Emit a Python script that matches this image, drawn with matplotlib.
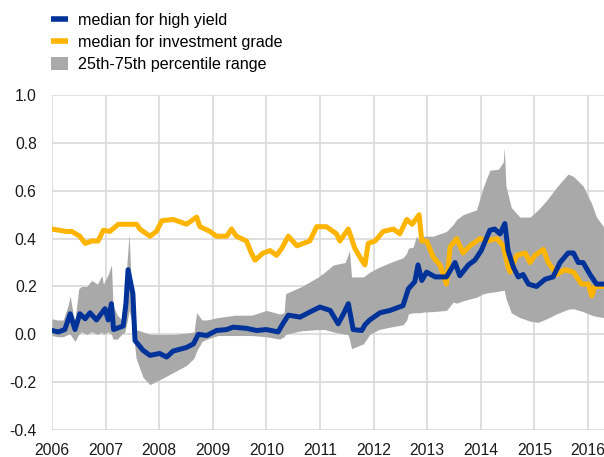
import matplotlib
matplotlib.use('Agg')
import matplotlib.pyplot as plt
from matplotlib.lines import Line2D
from matplotlib.patches import Patch

plt.rcParams['font.family'] = ['Liberation Sans', 'DejaVu Sans']
plt.rcParams['font.size'] = 11

# 25th-75th percentile band (decimal years, lower, upper)
band_t = [2006.00, 2006.10, 2006.21, 2006.30, 2006.34, 2006.40, 2006.43, 2006.50, 2006.55,
          2006.65, 2006.74, 2006.85, 2006.93, 2006.96, 2007.05, 2007.11, 2007.14, 2007.22,
          2007.30, 2007.36, 2007.40, 2007.44, 2007.49, 2007.53, 2007.57, 2007.70, 2007.83,
          2008.01, 2008.26, 2008.51, 2008.65, 2008.70, 2008.80, 2008.89, 2009.10, 2009.41,
          2009.73, 2010.00, 2010.25, 2010.33, 2010.36, 2010.66, 2010.97, 2011.09, 2011.25,
          2011.47, 2011.52, 2011.55, 2011.59, 2011.70, 2011.81, 2011.93, 2012.10, 2012.31,
          2012.55, 2012.62, 2012.65, 2012.74, 2012.80, 2012.86, 2012.93, 2013.11, 2013.36,
          2013.49, 2013.55, 2013.67, 2013.92, 2014.05, 2014.17, 2014.33, 2014.42, 2014.44,
          2014.47, 2014.57, 2014.73, 2014.92, 2015.07, 2015.23, 2015.42, 2015.63, 2015.73,
          2015.91, 2016.07, 2016.16, 2016.29]
band_lo = [-0.005, -0.01, -0.01, 0.00, 0.00, -0.02, -0.03, 0.00, 0.01,
           0.00, 0.01, 0.00, 0.01, 0.00, 0.01, 0.00, -0.02, -0.02,
           0.00, 0.01, 0.05, 0.10, 0.05, -0.02, -0.10, -0.18, -0.21,
           -0.19, -0.16, -0.13, -0.10, -0.07, -0.03, -0.02, -0.005, -0.005,
           -0.005, -0.01, -0.02, -0.01, 0.00, 0.015, 0.02, 0.02, 0.01,
           0.00, 0.00, -0.02, -0.06, -0.05, -0.04, 0.00, 0.02, 0.03,
           0.04, 0.06, 0.086, 0.09, 0.09, 0.09, 0.093, 0.095, 0.10,
           0.135, 0.13, 0.14, 0.155, 0.17, 0.175, 0.18, 0.184, 0.184,
           0.15, 0.09, 0.07, 0.055, 0.05, 0.065, 0.086, 0.105, 0.107,
           0.095, 0.08, 0.075, 0.07]
band_hi = [0.065, 0.06, 0.06, 0.12, 0.16, 0.08, 0.06, 0.19, 0.20,
           0.20, 0.225, 0.21, 0.246, 0.21, 0.25, 0.29, 0.12, 0.08,
           0.06, 0.10, 0.30, 0.42, 0.15, 0.05, 0.02, 0.01, 0.00,
           0.00, 0.00, 0.005, 0.01, 0.09, 0.06, 0.06, 0.07, 0.08,
           0.08, 0.10, 0.085, 0.09, 0.17, 0.20, 0.24, 0.26, 0.29,
           0.30, 0.33, 0.35, 0.24, 0.24, 0.24, 0.26, 0.28, 0.30,
           0.32, 0.34, 0.36, 0.365, 0.41, 0.39, 0.41, 0.41, 0.43,
           0.46, 0.48, 0.50, 0.52, 0.616, 0.686, 0.69, 0.72, 0.78,
           0.62, 0.53, 0.49, 0.49, 0.52, 0.56, 0.616, 0.67, 0.66,
           0.62, 0.546, 0.49, 0.45]

# median for high yield
hy_t = [2006.00, 2006.12, 2006.24, 2006.34, 2006.43, 2006.52, 2006.62, 2006.71, 2006.83,
        2006.99, 2007.05, 2007.11, 2007.15, 2007.33, 2007.38, 2007.42, 2007.51, 2007.55,
        2007.70, 2007.83, 2008.01, 2008.14, 2008.26, 2008.51, 2008.64, 2008.73, 2008.89,
        2009.07, 2009.26, 2009.38, 2009.63, 2009.82, 2010.00, 2010.22, 2010.31, 2010.41,
        2010.63, 2010.81, 2011.00, 2011.19, 2011.34, 2011.44, 2011.53, 2011.62, 2011.78,
        2011.84, 2011.93, 2012.12, 2012.31, 2012.55, 2012.65, 2012.77, 2012.83, 2012.90,
        2012.99, 2013.15, 2013.36, 2013.52, 2013.61, 2013.77, 2013.89, 2014.01, 2014.17,
        2014.26, 2014.36, 2014.45, 2014.51, 2014.61, 2014.70, 2014.79, 2014.89, 2015.04,
        2015.20, 2015.35, 2015.48, 2015.63, 2015.73, 2015.82, 2015.91, 2016.04, 2016.16,
        2016.29]
hy_v = [0.016, 0.01, 0.02, 0.086, 0.02, 0.086, 0.065, 0.09, 0.06,
        0.107, 0.06, 0.128, 0.02, 0.035, 0.128, 0.27, 0.17, -0.026,
        -0.067, -0.088, -0.08, -0.095, -0.07, -0.055, -0.04, 0.0, -0.005,
        0.016, 0.02, 0.03, 0.025, 0.016, 0.02, 0.01, 0.045, 0.08,
        0.072, 0.093, 0.114, 0.10, 0.044, 0.086, 0.128, 0.02, 0.016,
        0.04, 0.06, 0.09, 0.10, 0.12, 0.19, 0.22, 0.29, 0.225,
        0.26, 0.24, 0.24, 0.30, 0.245, 0.29, 0.31, 0.35, 0.435,
        0.44, 0.42, 0.463, 0.35, 0.28, 0.24, 0.25, 0.21, 0.20,
        0.23, 0.24, 0.30, 0.34, 0.34, 0.30, 0.30, 0.25, 0.21,
        0.21]

# median for investment grade
ig_t = [2006.00, 2006.27, 2006.37, 2006.52, 2006.62, 2006.74, 2006.86, 2006.96, 2007.08,
        2007.24, 2007.39, 2007.58, 2007.64, 2007.83, 2007.95, 2008.05, 2008.26, 2008.39,
        2008.51, 2008.70, 2008.76, 2008.95, 2009.07, 2009.26, 2009.35, 2009.44, 2009.63,
        2009.72, 2009.79, 2009.94, 2010.07, 2010.19, 2010.29, 2010.41, 2010.57, 2010.69,
        2010.81, 2010.94, 2011.12, 2011.31, 2011.37, 2011.53, 2011.65, 2011.78, 2011.84,
        2011.90, 2012.03, 2012.18, 2012.37, 2012.49, 2012.62, 2012.72, 2012.85, 2012.90,
        2012.99, 2013.12, 2013.24, 2013.36, 2013.43, 2013.55, 2013.67, 2013.80, 2013.99,
        2014.11, 2014.30, 2014.42, 2014.51, 2014.55, 2014.67, 2014.83, 2014.92, 2015.01,
        2015.17, 2015.26, 2015.42, 2015.57, 2015.73, 2015.88, 2016.01, 2016.07, 2016.13,
        2016.29]
ig_v = [0.44, 0.43, 0.43, 0.41, 0.38, 0.39, 0.39, 0.435, 0.43,
        0.46, 0.46, 0.46, 0.44, 0.41, 0.43, 0.475, 0.48, 0.47,
        0.46, 0.49, 0.45, 0.43, 0.41, 0.41, 0.44, 0.41, 0.39,
        0.34, 0.31, 0.34, 0.35, 0.33, 0.36, 0.41, 0.37, 0.38,
        0.39, 0.45, 0.45, 0.42, 0.39, 0.44, 0.36, 0.31, 0.29,
        0.38, 0.39, 0.43, 0.44, 0.42, 0.48, 0.46, 0.50, 0.39,
        0.39, 0.32, 0.29, 0.21, 0.365, 0.40, 0.34, 0.37, 0.40,
        0.39, 0.40, 0.37, 0.28, 0.26, 0.33, 0.34, 0.30, 0.33,
        0.355, 0.30, 0.25, 0.27, 0.26, 0.21, 0.21, 0.16, 0.20,
        0.20]

years = list(range(2006, 2017))
yticks = [-0.4, -0.2, 0.0, 0.2, 0.4, 0.6, 0.8, 1.0]

blue = '#003399'
yellow = '#ffb400'
grey = '#a9a9a9'

fig = plt.figure(figsize=(6.04, 4.57), dpi=100)
ax = fig.add_axes([0.086, 0.059, 0.914, 0.733])

ax.fill_between(band_t, band_lo, band_hi, color=grey, linewidth=0, zorder=2)
ax.plot(ig_t, ig_v, color=yellow, lw=3.6, solid_joinstyle='round', zorder=3)
ax.plot(hy_t, hy_v, color=blue, lw=3.6, solid_joinstyle='round', zorder=4)

ax.set_xlim(2006, 2016.3)
ax.set_ylim(-0.4, 1.0)
ax.set_xticks(years)
ax.set_xticklabels([str(y) for y in years])
ax.set_yticks(yticks)
ax.set_yticklabels(['%.1f' % v for v in yticks])
ax.tick_params(length=0, labelsize=11.3, colors='#1a1a1a')
ax.tick_params(axis='y', pad=11)
ax.tick_params(axis='x', pad=9)
ax.grid(True, color='#d9d9d9', linewidth=1.2, zorder=0)
ax.set_axisbelow(True)
for s in ax.spines.values():
    s.set_visible(False)

handles = [Line2D([0], [0], color=blue, lw=4, solid_capstyle='butt'),
           Line2D([0], [0], color=yellow, lw=4, solid_capstyle='butt'),
           Patch(facecolor=grey, edgecolor='none')]
labels = ['median for high yield', 'median for investment grade', '25th-75th percentile range']
fig.legend(handles, labels, loc='upper left', bbox_to_anchor=(0.084, 0.972),
           frameon=False, borderpad=0, borderaxespad=0, handlelength=1.1,
           handleheight=0.9, handletextpad=0.62, labelspacing=0.42, fontsize=11.6)

fig.savefig('out.png', dpi=100)
